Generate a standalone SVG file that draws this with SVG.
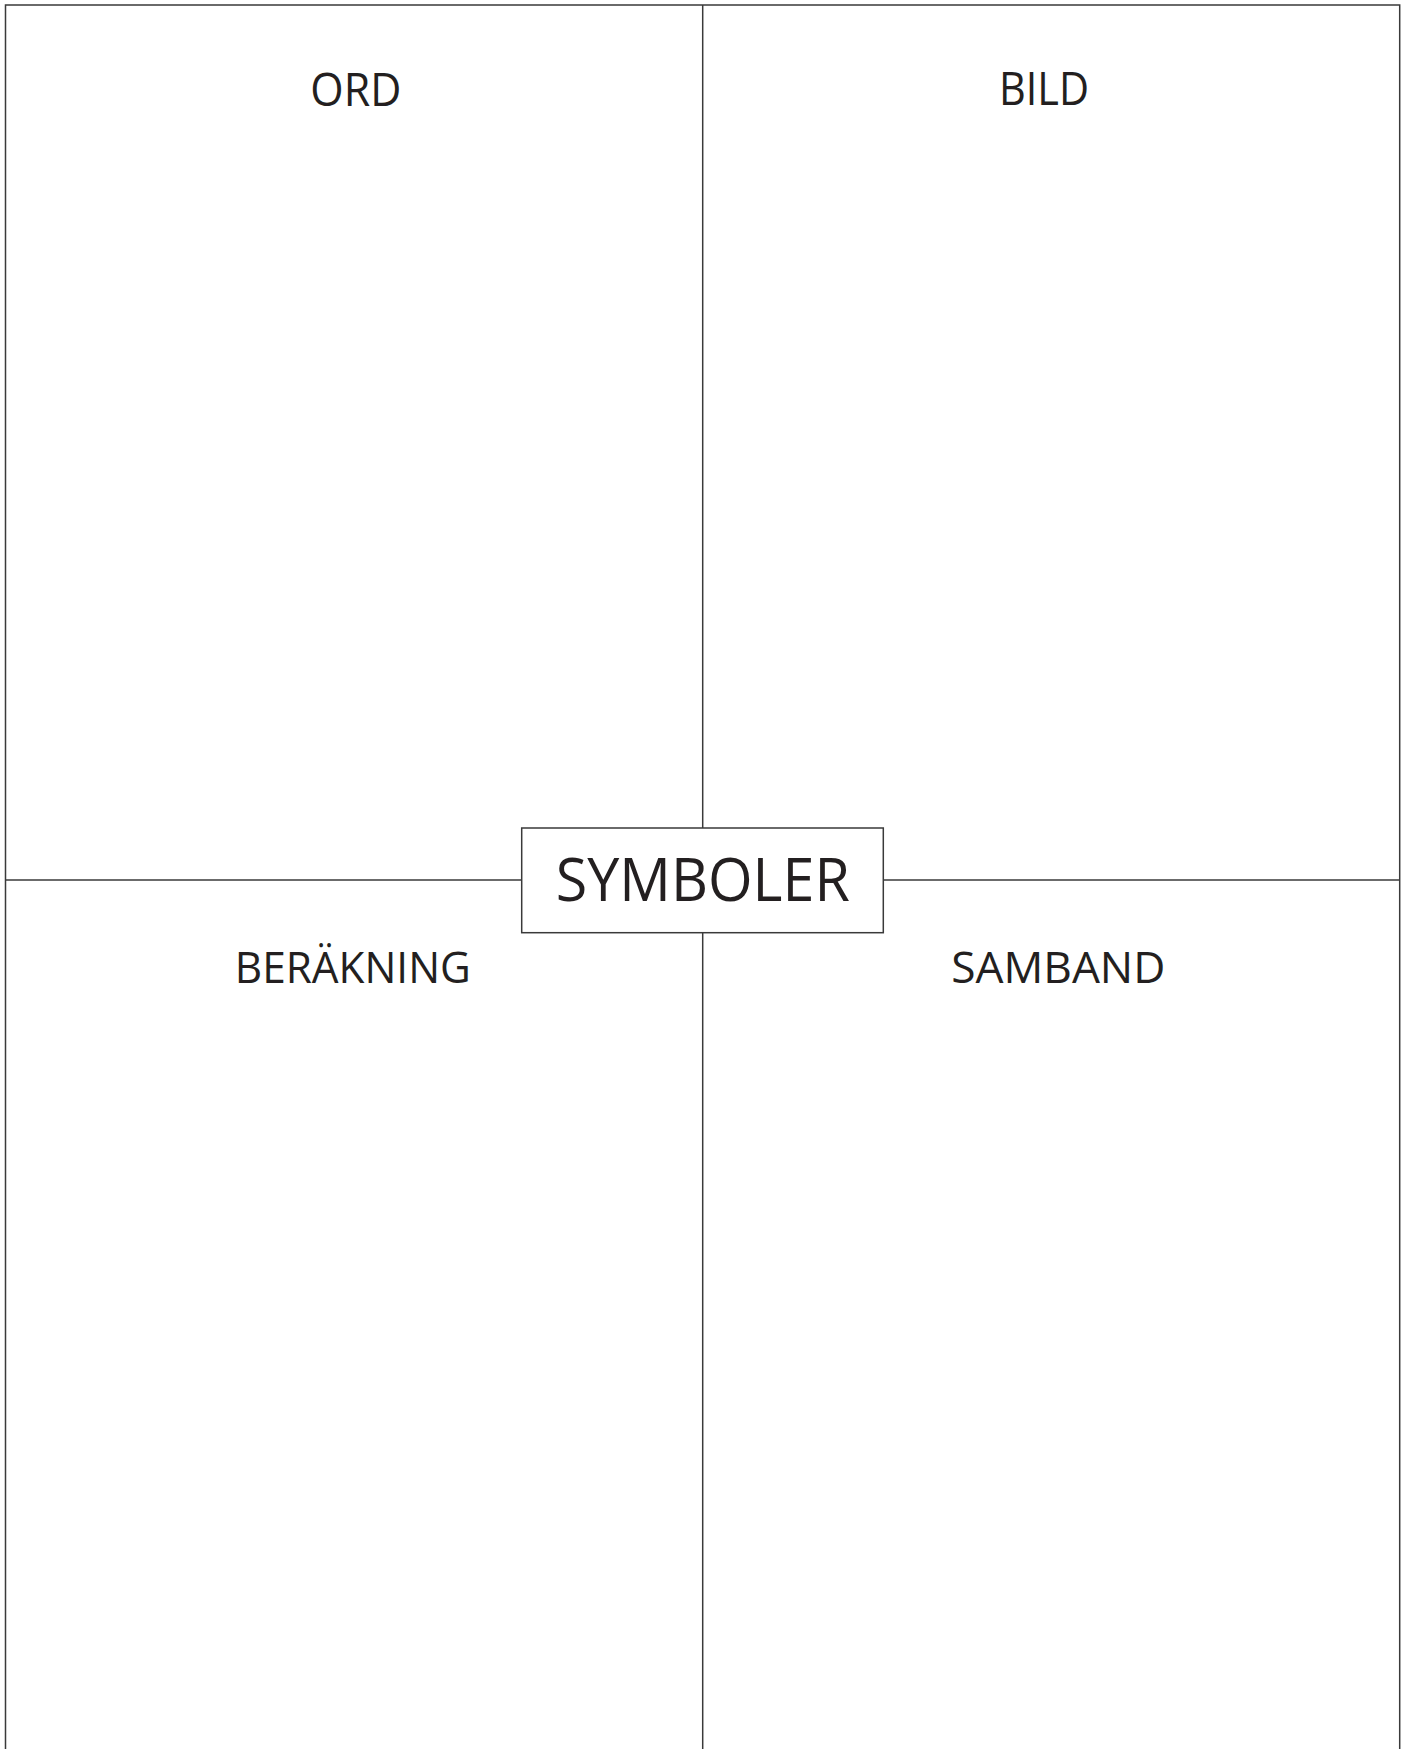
<svg xmlns="http://www.w3.org/2000/svg" width="1405" height="1749" viewBox="0 0 1405 1749">
<style>
.ln{stroke:#3a3a3a;stroke-width:1.5;fill:none}
.lbl{font-family:"Open Sans","Liberation Sans",sans-serif;fill:#231f20;text-anchor:middle}
</style>
<rect width="1405" height="1749" fill="#fff"/>
<g id="connectors">
<path class="ln" d="M5.5,1749 V5 H1399.7 V1749"/>
<line class="ln" x1="702.7" y1="5" x2="702.7" y2="828"/>
<line class="ln" x1="702.7" y1="932.7" x2="702.7" y2="1749"/>
<line class="ln" x1="5.5" y1="880" x2="521.7" y2="880"/>
<line class="ln" x1="883.3" y1="880" x2="1399.7" y2="880"/>
</g>
<g id="ord"><text class="lbl" x="355.8" y="106" font-size="45" textLength="91" lengthAdjust="spacingAndGlyphs">ORD</text></g>
<g id="bild"><text class="lbl" x="1044" y="105" font-size="45" textLength="90" lengthAdjust="spacingAndGlyphs">BILD</text></g>
<g id="berakning"><text class="lbl" x="352.8" y="982.7" font-size="43" textLength="236" lengthAdjust="spacingAndGlyphs">BERÄKNING</text></g>
<g id="samband"><text class="lbl" x="1058.3" y="982.7" font-size="43" textLength="214" lengthAdjust="spacingAndGlyphs">SAMBAND</text></g>
<g id="symboler">
<rect class="ln" x="521.7" y="828" width="361.6" height="104.7"/>
<text class="lbl" x="702.8" y="900.7" font-size="61" textLength="294" lengthAdjust="spacingAndGlyphs">SYMBOLER</text>
</g>
</svg>
